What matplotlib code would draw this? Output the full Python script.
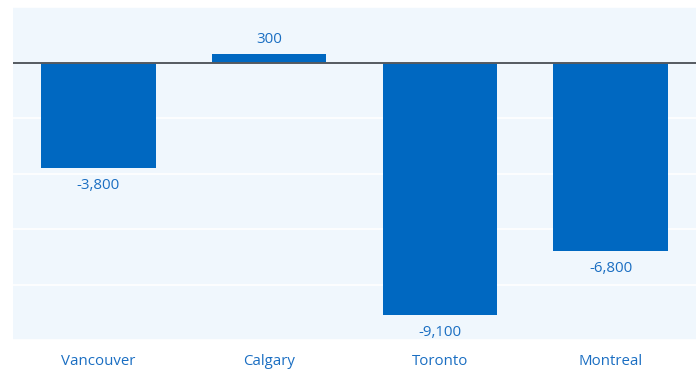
import numpy as np
import matplotlib.pyplot as plt

cities = ['Vancouver', 'Calgary', 'Toronto', 'Montreal']
net_change = [-3800, 300, -9100, -6800]

bar_color = '#0068c1'
text_color = '#1a6ec2'
panel_bg = '#f0f7fd'

plt.rcParams['font.family'] = ['Open Sans', 'DejaVu Sans']

fig = plt.figure(figsize=(6.99, 3.70), dpi=100)
ax = fig.add_axes([13 / 699, 30 / 370, 683 / 699, 333 / 370])
ax.set_facecolor(panel_bg)

x = np.arange(len(cities))
ax.bar(x, net_change, width=0.67, color=bar_color, zorder=3)

ax.set_xlim(-0.5, len(cities) - 0.5)
ax.set_ylim(-10000, 2000)
ax.set_yticks(np.arange(-10000, 2001, 2000))
ax.yaxis.grid(True, color='white', linewidth=1.2, zorder=0)
ax.axhline(0, color='#555a60', linewidth=1.4, zorder=4)

# value labels: above positive bars, below negative ones
for xi, v in zip(x, net_change):
    if v >= 0:
        ax.annotate(f'{v:,}', (xi, v), xytext=(0, 5), textcoords='offset points',
                    ha='center', va='bottom', color=text_color, fontsize=10.8)
    else:
        ax.annotate(f'{v:,}', (xi, v), xytext=(0, -7), textcoords='offset points',
                    ha='center', va='top', color=text_color, fontsize=10.8)

ax.set_xticks(x)
ax.set_xticklabels(cities, color=text_color, fontsize=10.8)
ax.tick_params(axis='x', length=0, pad=10)
ax.tick_params(axis='y', left=False, labelleft=False)
for s in ax.spines.values():
    s.set_visible(False)

fig.savefig('out.png', dpi=100, facecolor='white')
